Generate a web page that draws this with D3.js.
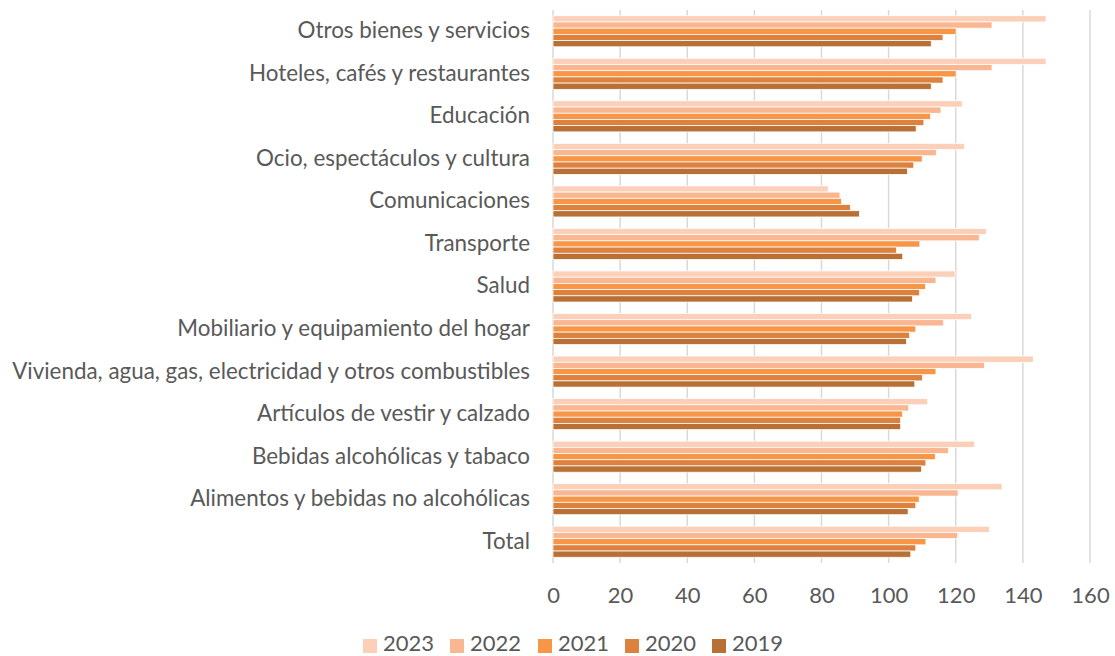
<!DOCTYPE html>
<html>
<head>
<meta charset="utf-8">
<script src="https://cdn.jsdelivr.net/npm/d3@7"></script>
<style>
  html, body { margin: 0; padding: 0; background: #fff; }
  svg { display: block; font-family: Lato, "Open Sans", sans-serif; }
</style>
</head>
<body>
<svg id="chart" width="1115" height="656"></svg>
<script>
// Categories, top to bottom as shown
const categories = [
  'Otros bienes y servicios',
  'Hoteles, cafés y restaurantes',
  'Educación',
  'Ocio, espectáculos y cultura',
  'Comunicaciones',
  'Transporte',
  'Salud',
  'Mobiliario y equipamiento del hogar',
  'Vivienda, agua, gas, electricidad y otros combustibles',
  'Artículos de vestir y calzado',
  'Bebidas alcohólicas y tabaco',
  'Alimentos y bebidas no alcohólicas',
  'Total'
];

const years = ['2023', '2022', '2021', '2020', '2019'];

const values2023 = [146.9, 146.9, 121.9, 122.6, 82.0, 129.1, 119.8, 124.7, 143.1, 111.6, 125.6, 133.8, 130.0];
const values2022 = [130.8, 130.8, 115.6, 114.2, 85.5, 127.0, 114.1, 116.4, 128.6, 106.0, 117.8, 120.7, 120.6];
const values2021 = [120.1, 120.1, 112.5, 110.0, 86.0, 109.3, 111.0, 108.1, 114.1, 104.1, 113.9, 109.1, 111.1];
const values2020 = [116.2, 116.2, 110.5, 107.5, 88.6, 102.3, 109.2, 106.2, 110.1, 103.6, 111.1, 108.1, 108.1];
const values2019 = [112.7, 112.7, 108.2, 105.6, 91.3, 104.2, 107.1, 105.3, 107.8, 103.6, 109.8, 105.8, 106.6];

const xTicks = [0, 20, 40, 60, 80, 100, 120, 140, 160];

const colors = ['#fbcfb8', '#f8b691', '#f79646', '#dc823e', '#b97034'];
const series = [values2023, values2022, values2021, values2020, values2019];

const svg = d3.select('#chart');
const textColor = '#595959';
const fontSize = '22px';

// Scales
const x = d3.scaleLinear().domain([0, 160]).range([553, 1090]);
const y = d3.scaleBand().domain(categories).range([10, 563]).paddingInner(0.27).paddingOuter(0.135);
const ySub = d3.scaleBand().domain(years).range([0, y.bandwidth()]);

// Gridlines
svg.append('g')
  .selectAll('line')
  .data(xTicks)
  .join('line')
  .attr('x1', d => x(d)).attr('x2', d => x(d))
  .attr('y1', 10).attr('y2', 563)
  .attr('stroke', '#d9d9d9')
  .attr('stroke-width', 1.5);

// Bars
const groups = svg.append('g')
  .selectAll('g')
  .data(categories)
  .join('g')
  .attr('transform', d => `translate(0,${y(d)})`);

groups.selectAll('rect')
  .data((c, i) => years.map((yr, j) => ({ year: yr, value: series[j][i], color: colors[j] })))
  .join('rect')
  .attr('x', x(0))
  .attr('y', d => ySub(d.year))
  .attr('width', d => x(d.value) - x(0))
  .attr('height', ySub.bandwidth())
  .attr('fill', d => d.color)
  .attr('stroke', '#fff')
  .attr('stroke-width', 0.75);

// Category labels
svg.append('g')
  .selectAll('text')
  .data(categories)
  .join('text')
  .attr('x', 530)
  .attr('y', d => y(d) + y.bandwidth() / 2)
  .attr('dy', '0.31em')
  .attr('text-anchor', 'end')
  .attr('fill', textColor)
  .style('font-size', '22.4px')
  .text(d => d);

// X axis labels
const xAxis = d3.axisBottom(x).tickValues(xTicks).tickSize(0).tickPadding(0);
const gx = svg.append('g')
  .attr('transform', 'translate(0,587)')
  .call(xAxis);
gx.select('.domain').remove();
gx.selectAll('text')
  .attr('fill', textColor)
  .attr('font-family', 'Lato, "Open Sans", sans-serif')
  .style('font-size', fontSize);

// Legend
const legendX = [363, 450, 538, 625, 712];
const legend = svg.append('g')
  .selectAll('g')
  .data(years)
  .join('g')
  .attr('transform', (d, i) => `translate(${legendX[i]},0)`);
legend.append('rect')
  .attr('x', 0).attr('y', 639)
  .attr('width', 14).attr('height', 14)
  .attr('fill', (d, i) => colors[i]);
legend.append('text')
  .attr('x', 20)
  .attr('y', 651)
  .attr('fill', textColor)
  .style('font-size', fontSize)
  .text(d => d);
</script>
</body>
</html>
